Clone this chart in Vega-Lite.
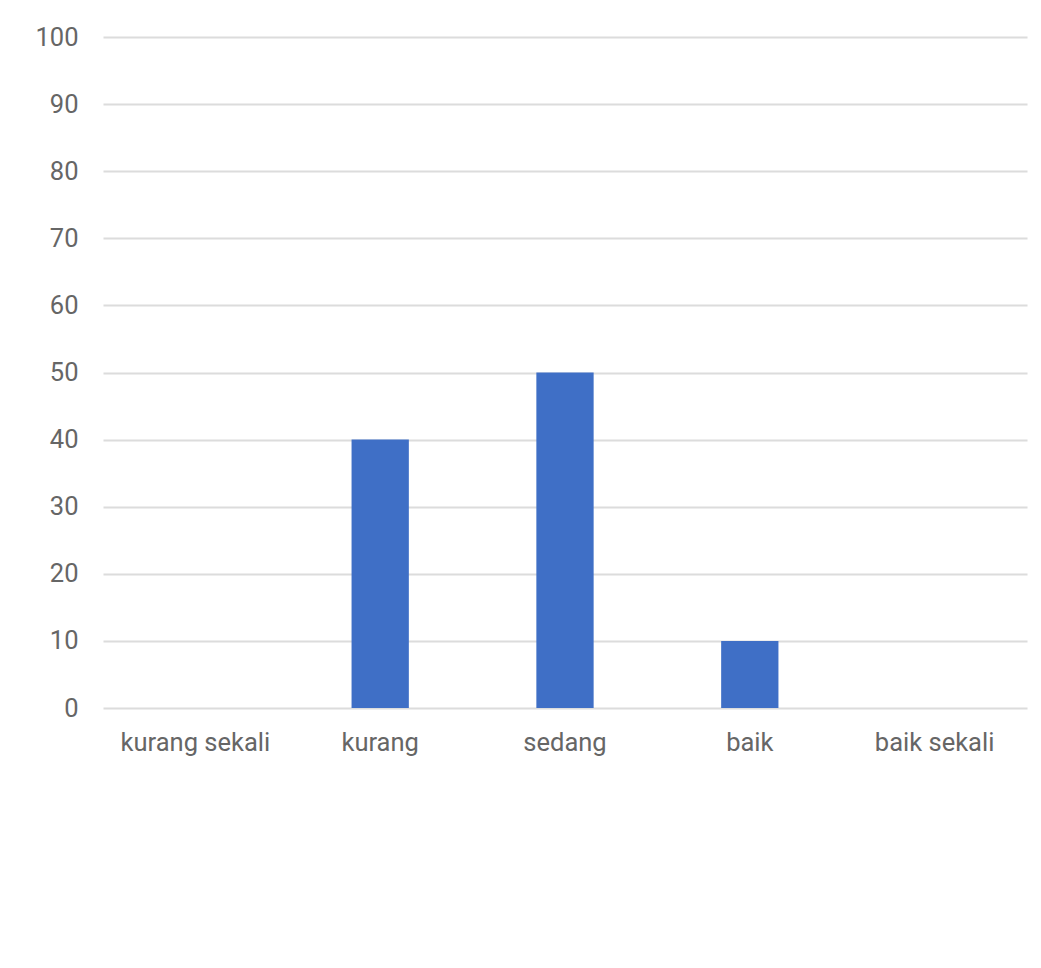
{
  "$schema": "https://vega.github.io/schema/vega-lite/v6.json",
  "width": 924,
  "height": 671,
  "autosize": "none",
  "padding": {"left": 103, "top": 37, "right": 14, "bottom": 260},
  "background": "white",
  "data": {
    "values": [
      {"kategori": "kurang sekali", "nilai": 0},
      {"kategori": "kurang", "nilai": 40},
      {"kategori": "sedang", "nilai": 50},
      {"kategori": "baik", "nilai": 10},
      {"kategori": "baik sekali", "nilai": 0}
    ]
  },
  "mark": {"type": "bar", "color": "#3f6fc6"},
  "encoding": {
    "x": {
      "field": "kategori",
      "type": "nominal",
      "sort": null,
      "scale": {"paddingInner": 0.69, "paddingOuter": 0.345},
      "axis": {
        "title": null,
        "labelAngle": 0,
        "domain": false,
        "ticks": false,
        "labelPadding": 22,
        "labelFont": "Roboto",
        "labelFontSize": 25.5,
        "labelColor": "#666666"
      }
    },
    "y": {
      "field": "nilai",
      "type": "quantitative",
      "scale": {"domain": [0, 100]},
      "axis": {
        "title": null,
        "values": [0, 10, 20, 30, 40, 50, 60, 70, 80, 90, 100],
        "domain": false,
        "ticks": false,
        "gridColor": "#dcdcdc",
        "gridWidth": 2,
        "labelPadding": 25,
        "labelFont": "Roboto",
        "labelFontSize": 25.5,
        "labelColor": "#666666"
      }
    }
  },
  "config": {"view": {"stroke": null}}
}
